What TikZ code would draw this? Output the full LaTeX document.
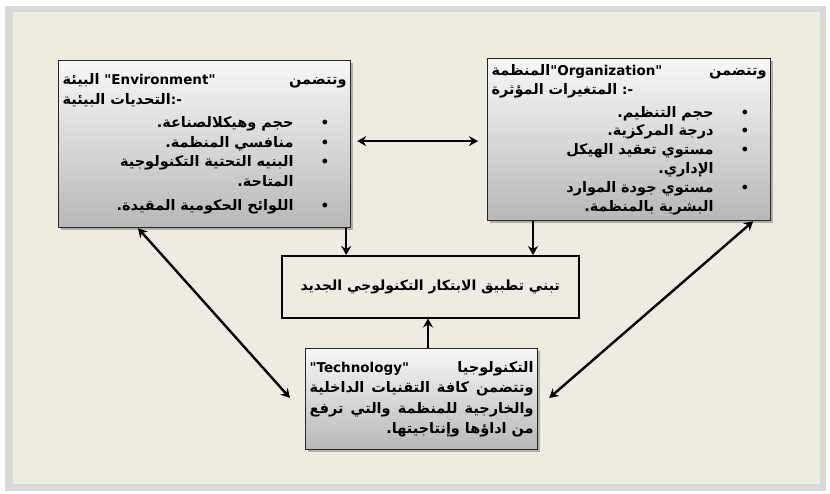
\documentclass[tikz,border=0pt]{standalone}
\usepackage{fontspec}
\setmainfont{DejaVu Sans}
\newfontfamily\arabicfont[Script=Arabic]{DejaVu Sans}
\newfontfamily\latinfont{DejaVu Sans}
\TeXXeTstate=1
\usetikzlibrary{arrows.meta,shadows}

\definecolor{pagebeige}{HTML}{EEECE1}
\definecolor{framegray}{HTML}{D9D9D9}

\newcommand{\ar}[1]{\beginR #1\endR}
\newcommand{\en}[1]{{\latinfont\bfseries\fontsize{13.5}{19}\selectfont #1}}
\newcommand{\fullline}[1]{\makebox[\hsize][s]{#1}}
\newcommand{\lline}[1]{\makebox[\hsize][l]{#1}}
\newcommand{\bitem}[1]{\ar{#1}\hspace{27pt}\makebox[26pt][l]{\en{\textbullet}}}
\newcommand{\bcont}[1]{\ar{#1}\hspace{27pt}\makebox[26pt][l]{}}

\begin{document}
\begin{tikzpicture}[
    x=1pt, y=-1pt,
    sidebox/.style={rectangle, draw=black!85, line width=1.2pt, top color=black!3, bottom color=black!28,
        drop shadow={shadow xshift=2pt, shadow yshift=-2pt, fill=black!55},
        inner xsep=4pt, inner ysep=3pt, align=right, anchor=north west,
        font=\arabicfont\bfseries\fontsize{14.5}{19.5}\selectfont},
    midbox/.style={rectangle, draw=black, line width=1.5pt, minimum width=297pt, minimum height=62pt,
        anchor=north west, font=\arabicfont\bfseries\fontsize{14}{19}\selectfont},
    arrow/.style={-{Stealth[length=9pt,width=10pt,inset=3pt]}, line width=2.4pt},
    dblarrow/.style={{Stealth[length=9pt,width=10pt,inset=3pt]}-{Stealth[length=9pt,width=10pt,inset=3pt]}, line width=2.4pt}
]
    \useasboundingbox (0,0) rectangle (830,493);
    % Frame
    \fill[white] (0,0) rectangle (830,493);
    \fill[framegray] (5,6) rectangle (826,491);
    \fill[pagebeige] (13,12) rectangle (820,484);

    % Boxes
    \node[sidebox, text width=284pt, minimum height=167pt] (env) at (58,60) {%
        \fullline{\ar{البيئة} \en{"Environment"}\hfill\ar{وتتضمن}}\\
        \lline{\ar{التحديات البيئية}\en{:-}}\\[4pt]
        \bitem{حجم وهيكلالصناعة.}\\
        \bitem{منافسي المنظمة.}\\
        \bitem{البنيه التحتية التكنولوجية}\\
        \bcont{المتاحة.}\\[5pt]
        \bitem{اللوائح الحكومية المقيدة.}};
    \node[sidebox, text width=275pt, minimum height=162pt, font=\arabicfont\bfseries\fontsize{14.5}{18.8}\selectfont] (org) at (487,58) {%
        \fullline{\ar{المنظمة}\en{"Organization"}\hfill\ar{وتتضمن}}\\
        \lline{\ar{المتغيرات المؤثرة} \en{:-}}\\[4pt]
        \bitem{حجم التنظيم.}\\
        \bitem{درجة المركزية.}\\
        \bitem{مستوي تعقيد الهيكل}\\
        \bcont{الإداري.}\\
        \bitem{مستوي جودة  الموارد}\\
        \bcont{البشرية بالمنظمة.}};
    \node[midbox] (centre) at (281,255) {\ar{تبني تطبيق الابتكار التكنولوجي الجديد}};
    \node[sidebox, text width=224pt, minimum height=101pt, font=\arabicfont\bfseries\fontsize{14.5}{20.5}\selectfont] (tech) at (305,348) {%
        \fullline{\en{"Technology"}\hfill\ar{التكنولوجيا}}\\
        \fullline{\ar{وتتضمن\hfill كافة\hfill التقنيات\hfill الداخلية}}\\
        \fullline{\ar{والخارجية\hfill للمنظمة\hfill والتي\hfill ترفع}}\\
        \ar{من اداؤها وإنتاجيتها.}};

    % Arrows
    \draw[dblarrow] ([xshift=6pt,yshift=3pt]env.east) -- ([xshift=-9pt,yshift=3pt]env.east -| org.west);
    \draw[arrow] ([xshift=-5pt]env.south east) -- ([xshift=-5pt]env.south east |- centre.north);
    \draw[arrow] ([xshift=46pt]org.south west) -- ([xshift=46pt]org.south west |- centre.north);
    \draw[arrow] ([xshift=123pt]tech.north west) -- ([xshift=123pt]tech.north west |- centre.south);
    \draw[dblarrow] ([xshift=80pt]env.south west) -- ([xshift=-15pt,yshift=-50pt]tech.north west);
    \draw[dblarrow] ([xshift=-18pt]org.south east) -- ([xshift=11pt,yshift=-50pt]tech.north east);
\end{tikzpicture}
\end{document}
